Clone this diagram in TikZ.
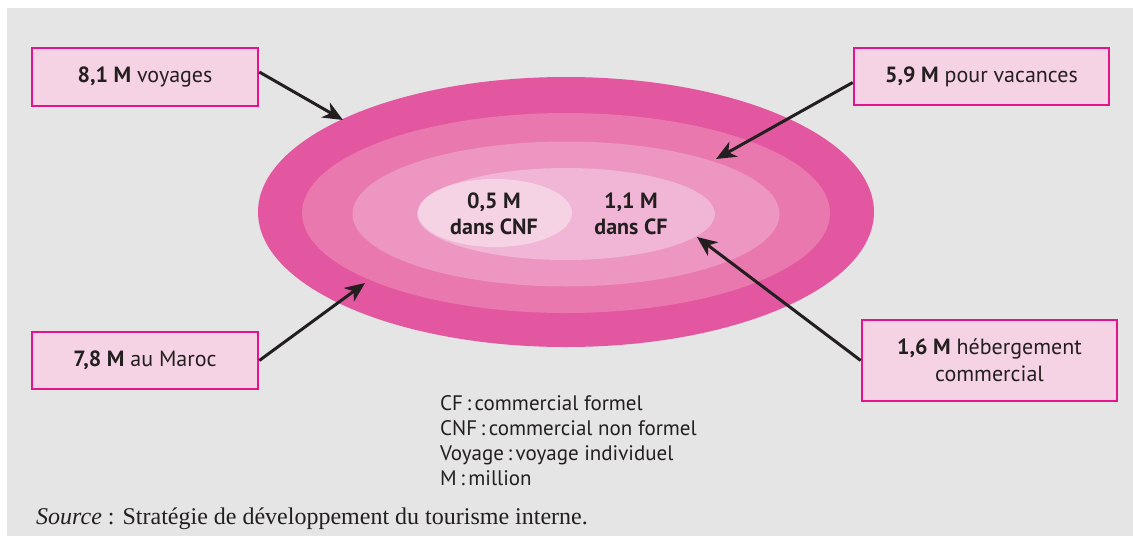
\documentclass[tikz,border=0pt]{standalone}
\usepackage{fontspec}
\setmainfont{Liberation Serif}
\newfontfamily\myr{PT Sans}
\usetikzlibrary{arrows.meta,shapes.geometric}
\definecolor{bg}{HTML}{E5E5E5}
\definecolor{ca}{HTML}{E356A0}
\definecolor{cb}{HTML}{E878AD}
\definecolor{cc}{HTML}{EC96C1}
\definecolor{cd}{HTML}{F1B5D5}
\definecolor{ce}{HTML}{F6D3E4}
\definecolor{mag}{HTML}{E5138C}
\definecolor{boxf}{HTML}{F6D3E4}
\definecolor{ink}{HTML}{231F20}
\begin{document}
\begin{tikzpicture}[x=1pt,y=-1pt,
  lbl/.style={draw=mag, line width=2.6pt, fill=boxf, font=\myr\fontsize{22}{27}\selectfont, text=ink, align=center, inner sep=0pt},
  arr/.style={draw=ink, line width=3pt, -{Stealth[length=20pt,width=17pt,inset=6pt]}},
  ring/.style={ellipse, inner sep=0pt, outer sep=0pt, draw=none},
  inlbl/.style={font=\myr\bfseries\fontsize{22}{26}\selectfont, text=ink, align=center, inner sep=0pt}]
\useasboundingbox (0,0) rectangle (1133,536);
\fill[bg] (7,8) rectangle (1133,536);
% rings
\node[ring, fill=ca, minimum width=616pt, minimum height=270pt] (r1) at (566,212) {};
\node[ring, fill=cb, minimum width=528pt, minimum height=200pt] (r2) at (566,213) {};
\node[ring, fill=cc, minimum width=427pt, minimum height=145pt] (r3) at (566,214) {};
\node[ring, fill=cd, minimum width=298pt, minimum height=92pt] (cf) at (566,214) {};
\node[ring, fill=ce, minimum width=154pt, minimum height=68pt] (cnf) at (495,213) {};
\node[inlbl] (tcnf) at (494,214) {0,5 M\\dans CNF};
\node[inlbl] (tcf) at (631,214) {1,1 M\\dans CF};
% boxes
\node[lbl, minimum width=226pt, minimum height=58pt] (b1) at (145,77) {\textbf{8,1 M} voyages};
\node[lbl, minimum width=255pt, minimum height=57pt] (b2) at (981.5,76.5) {\textbf{5,9 M} pour vacances};
\node[lbl, minimum width=226pt, minimum height=57pt] (b3) at (145,360.5) {\textbf{7,8 M} au Maroc};
\node[lbl, minimum width=255pt, minimum height=81pt] (b4) at (989.5,360.5) {\textbf{1,6 M} hébergement\\commercial};
% arrow targets
\coordinate (t1) at (343,120);
\coordinate (t2) at (716,159);
\coordinate (t3) at (365,283);
\coordinate (t4) at (697,237);
\draw[arr] ([yshift=5pt]b1.east) -- (t1);
\draw[arr] ([yshift=-6pt]b2.west) -- (t2);
\draw[arr] (b3.east) -- (t3);
\draw[arr] (b4.west) -- (t4);
% legend
\node[anchor=base west, font=\myr\fontsize{21}{24.7}\selectfont, text=ink, align=left, inner sep=0pt] (leg) at (440,485)
  {CF\,:\,commercial formel\\CNF\,:\,commercial non formel\\Voyage\,:\,voyage individuel\\M\,:\,million};
\node[anchor=base west, font=\fontsize{24}{28}\selectfont, text=ink, inner sep=0pt] (src) at (36,524)
  {\textit{Source} : Stratégie de développement du tourisme interne.};
\end{tikzpicture}
\end{document}
